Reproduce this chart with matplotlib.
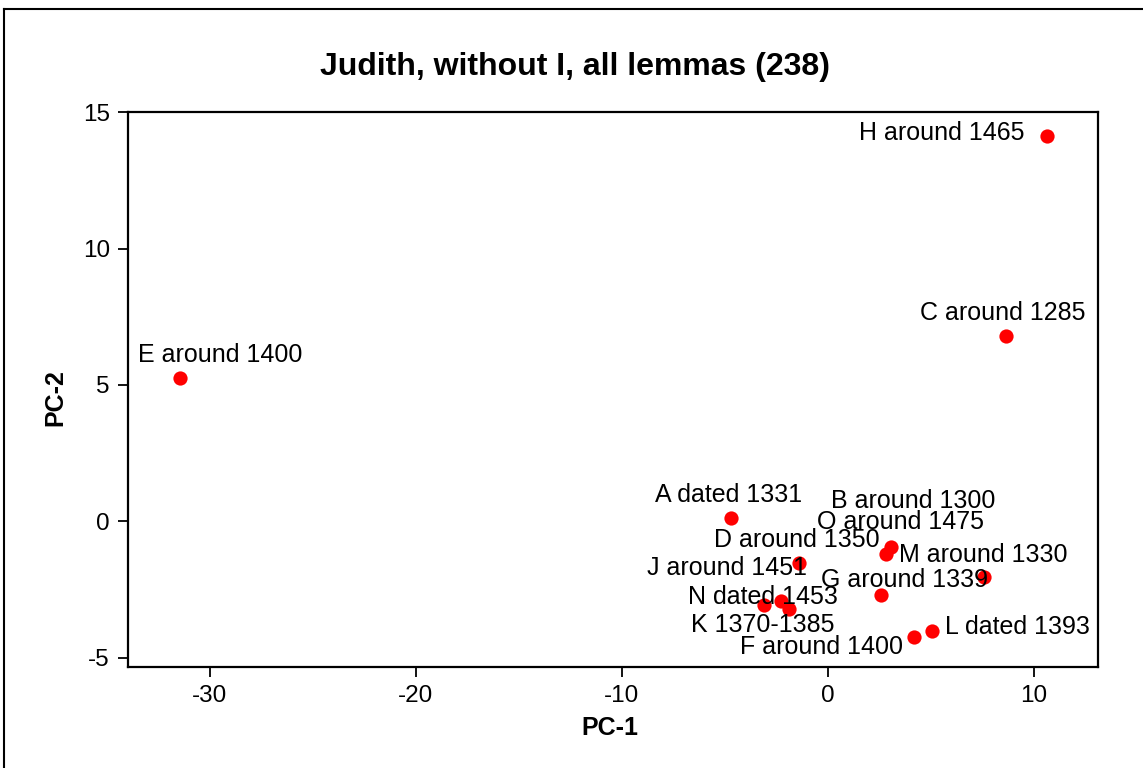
import numpy as np
import matplotlib.pyplot as plt
from matplotlib.lines import Line2D

plt.rcParams['font.family'] = ['Liberation Sans', 'DejaVu Sans']
plt.rcParams['axes.unicode_minus'] = False

# data
labels = ['H around 1465', 'C around 1285', 'E around 1400', 'A dated 1331',
          'B around 1300', 'O around 1475', 'D around 1350', 'M around 1330',
          'G around 1339', 'J around 1451', 'N dated 1453', 'K 1370-1385',
          'L dated 1393', 'F around 1400']
pc1 = [10.62, 8.65, -31.45, -4.71, 2.83, 3.05, -1.40, 7.58,
       2.57, -3.10, -2.29, -1.88, 5.07, 4.18]
pc2 = [14.12, 6.78, 5.25, 0.13, -1.18, -0.93, -1.54, -2.03,
       -2.70, -3.07, -2.91, -3.23, -4.01, -4.23]

# label placement (offset in pixels, horizontal alignment)
label_pos = [(-22, 3, 'right'), (-3, 23, 'center'), (40, 23, 'center'), (-2, 23, 'center'),
             (27, 53, 'center'), (10, 25, 'center'), (-2, 23, 'center'), (-1, 22, 'center'),
             (24, 15, 'center'), (-37, 37, 'center'), (-18, 4, 'center'), (-26, -16, 'center'),
             (13, 4, 'left'), (-11, -10, 'right')]

W, H = 1143, 768
fig = plt.figure(figsize=(W / 100, H / 100), dpi=100)
ax = fig.add_axes([128 / W, 1 - 666.7 / H, 970 / W, 555 / H])

ax.scatter(pc1, pc2, s=105, color='#ff0000', zorder=3, linewidths=0)
for lab, x, y, (dx, dy, ha) in zip(labels, pc1, pc2, label_pos):
    ax.annotate(lab, (x, y), xytext=(dx, dy), textcoords='offset pixels',
                ha=ha, va='center', fontsize=18, color='black')

ax.set_xlim(-33.97, 13.12)
ax.set_ylim(-5.33, 15.02)
ax.set_xticks([-30, -20, -10, 0, 10])
ax.set_yticks([-5, 0, 5, 10, 15])
ax.tick_params(direction='out', length=7, width=1.3, labelsize=17.5, pad=6)
for sp in ax.spines.values():
    sp.set_linewidth(1.6)

fig.text(575.5 / W, 1 - 67 / H, 'Judith, without I, all lemmas (238)',
         ha='center', va='center', fontsize=23, fontweight='bold')
fig.text(610 / W, 1 - 728 / H, 'PC-1', ha='center', va='center',
         fontsize=18, fontweight='bold')
fig.text(55 / W, 1 - 398 / H, 'PC-2', ha='center', va='center',
         fontsize=18, fontweight='bold', rotation=90)

# outer frame (top and left edges visible)
fig.add_artist(Line2D([4 / W, 1.0], [1 - 9 / H, 1 - 9 / H], color='black', lw=1.5))
fig.add_artist(Line2D([4 / W, 4 / W], [0.0, 1 - 9 / H], color='black', lw=1.5))

fig.savefig('out.png', dpi=100)
